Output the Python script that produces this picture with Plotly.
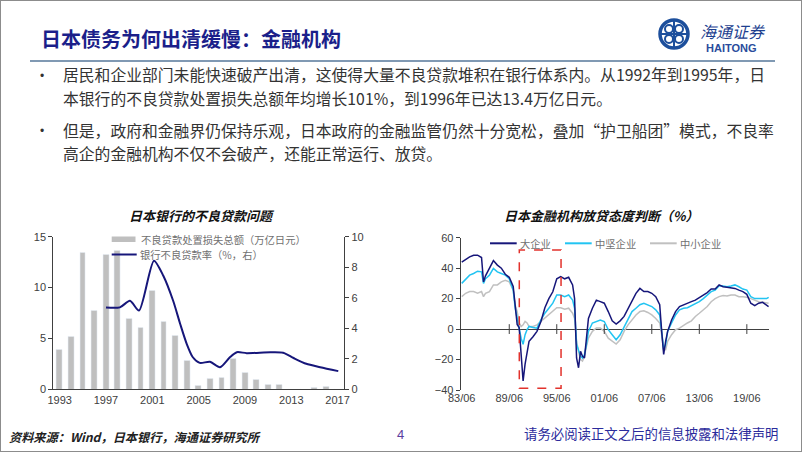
import plotly.graph_objects as go

W, H = 802, 452
def X(p): return p / W
def Y(p): return 1 - p / H

# ---------------- Left chart data ----------------
loss_years = list(range(1993, 2018))
loss_values = [3.85, 5.2, 13.4, 7.75, 13.25, 13.6, 6.9, 6.1, 9.7, 6.6, 5.3, 2.8, 0.35,
               1.0, 1.1, 3.05, 1.65, 0.95, 0.5, 0.5, 0, 0, 0.2, 0.25, 0]
ratio_x = [1997.0, 1998.2, 1999.07, 1999.85, 2001.14, 2001.95, 2002.8, 2003.4, 2003.97,
           2004.5, 2005.1, 2005.98, 2006.85, 2007.7, 2008.3, 2009.15, 2011.2, 2012.3,
           2013.2, 2014.3, 2015.5, 2017.06]
ratio_values = [5.36, 5.37, 5.8, 5.16, 8.43, 7.44, 5.8, 4.3, 2.98, 2.1, 1.73, 1.8, 1.45,
                2.1, 2.43, 2.37, 2.43, 2.4, 2.05, 1.67, 1.45, 1.19]
left_ticks = [1993, 1997, 2001, 2005, 2009, 2013, 2017]

# ---------------- Right chart data ----------------
t = [1983.5, 1984, 1984.5, 1985, 1985.5, 1986, 1986.25, 1986.5, 1987, 1987.5, 1988, 1988.5,
     1989, 1989.5, 1990, 1990.25, 1990.5, 1990.75, 1991, 1991.25, 1991.5, 1991.75, 1992,
     1992.5, 1993, 1993.5, 1994, 1994.5, 1995, 1995.5, 1996, 1996.5, 1997, 1997.5, 1997.75,
     1998, 1998.25, 1998.5, 1998.75, 1999, 1999.25, 1999.5, 2000, 2000.5, 2001, 2001.5,
     2002, 2002.5, 2003, 2003.5, 2004, 2004.5, 2005, 2005.5, 2006, 2006.5, 2007, 2007.5,
     2008, 2008.5, 2008.75, 2009, 2009.25, 2009.5, 2010, 2010.5, 2011, 2011.5, 2012, 2012.5,
     2013, 2013.5, 2014, 2014.5, 2015, 2015.5, 2016, 2016.5, 2017, 2017.5, 2018, 2018.5,
     2019, 2019.5, 2020, 2020.5, 2021, 2021.5, 2022, 2022.25]
large = [44, 46, 47.4, 48.5, 48.5, 47, 31, 35, 40, 45, 42, 40, 36, 34, 28, 14, 3, 1, -19, -34,
         -23, -15, -8, -5, -1.5, 5, 14, 20, 24.5, 33, 34.5, 33, 34, 29, 20, -19, -25.4, -14.6,
         -17.8, -19, -6, 7, 13.7, 19, 18, 17, 11.5, 5.4, 3.3, 5.4, 8.3, 13.7, 19, 23.5, 26.7,
         24.6, 24.6, 23.5, 21.3, 16, -1.5, -16.7, -8, -1.5, 6, 11.5, 14.8, 16, 17, 18, 19,
         20.6, 22.4, 24, 26.3, 26.3, 29, 27.8, 27.4, 27.2, 26.7, 25.6, 24.6, 22.8, 17, 15.4,
         17, 17.6, 15.4, 14.8]
medium = [30, 33, 35.4, 36.5, 38, 37.6, 30, 33, 35.4, 39.8, 37.6, 36.5, 35.4, 33, 25.6, 13.7,
          7, 0.7, -6, -10, -3.7, -0.4, 1.7, 1, 0.6, 6, 10.4, 13.7, 17, 22.4, 22.4, 21.3, 22.4,
          19, 13.7, -10, -14.6, -17.8, -19, -16.7, -10, -1.5, 4, 5, 6, 5, -0.4, -3.7, -7, -3.7,
          1.7, 7, 11.5, 13.7, 16, 17, 16, 14.8, 12.6, 9.3, -1.5, -13.5, -10, -1.5, 4, 9.3,
          12.6, 13.7, 14, 15.4, 17, 18, 20, 22.4, 24.6, 25.6, 28.5, 28.3, 27.8, 28.3, 29, 27.8,
          26.3, 25.6, 21.3, 20, 20, 19.6, 20, 20.9]
small = [21.3, 23.5, 24.6, 24.6, 23.5, 24.6, 21.3, 23.5, 24.6, 29, 29, 31, 32, 31, 25.6, 15.9,
         11.5, 4, 1.7, 2.8, 5, 4, 1.7, 1.7, 2.8, 5, 7, 9.3, 11.5, 14, 14, 13, 13.7, 10.4, 7,
         -8, -14.6, -20, -21, -17.8, -11.3, -6, -1.5, 0.7, 0.7, -1.5, -6, -8, -9.8, -7, -1.5,
         2.8, 6, 9.3, 11.5, 12, 10.9, 9.3, 7, 4, -3.7, -13.5, -13.5, -8, -3.7, -0.4, 0.6, 2.4,
         4, 5.4, 8.3, 10.4, 12.6, 14.8, 18, 20, 21.3, 22, 21.7, 22.4, 22.4, 21.3, 21.3, 20.9,
         20, 19, 18, 17.6, 17.4, 17]
right_tickvals = [1983.5, 1989.5, 1995.5, 2001.5, 2007.5, 2013.5, 2019.5]
right_ticktext = ['83/06', '89/06', '95/06', '01/06', '07/06', '13/06', '19/06']
highlight_x = [1990.77, 1996.04]
highlight_y = [-38.9, 51.9]

NAVY = '#16167a'
CYAN = '#22c4f2'
LGRAY = '#c0c0c0'
BAR = '#bfbfbf'
AX = '#404040'

fig = go.Figure()
fig.add_trace(go.Bar(x=loss_years, y=loss_values, marker_color=BAR, width=0.5,
                     xaxis='x', yaxis='y', name='不良贷款处置损失总额（万亿日元）'))
fig.add_trace(go.Scatter(x=ratio_x, y=ratio_values, mode='lines', line=dict(color=NAVY, width=2, shape='spline', smoothing=0.7),
                         xaxis='x', yaxis='y2', name='银行不良贷款率（%，右）'))

fig.add_trace(go.Scatter(x=t, y=small, mode='lines', line=dict(color=LGRAY, width=1.5),
                         xaxis='x3', yaxis='y3', name='中小企业'))
fig.add_trace(go.Scatter(x=t, y=medium, mode='lines', line=dict(color=CYAN, width=1.5),
                         xaxis='x3', yaxis='y3', name='中坚企业'))
fig.add_trace(go.Scatter(x=t, y=large, mode='lines', line=dict(color=NAVY, width=1.5),
                         xaxis='x3', yaxis='y3', name='大企业'))
fig.add_trace(go.Scatter(x=right_tickvals[1:], y=[0] * (len(right_tickvals) - 1), mode='markers',
                         marker=dict(symbol='line-ns', size=7, line=dict(width=1, color=AX)),
                         xaxis='x3', yaxis='y3', hoverinfo='skip'))

tickfont = dict(size=11, color=AX, family='Liberation Sans, Arial')
fig.update_layout(
    width=W, height=H, margin=dict(l=0, r=0, t=0, b=0, autoexpand=False),
    paper_bgcolor='white', plot_bgcolor='rgba(0,0,0,0)', showlegend=False,
    font=dict(family='Liberation Sans, Noto Sans CJK SC', size=11, color=AX),
    bargap=0,
    xaxis=dict(domain=[X(53.3), X(344.3)], range=[1992.45, 2017.58], anchor='y', automargin=False,
               showline=True, linecolor=AX, linewidth=1, tickvals=left_ticks, ticks='',
               showgrid=False, zeroline=False, tickfont=tickfont),
    yaxis=dict(domain=[Y(389.3), Y(236.7)], range=[0, 15], dtick=5, anchor='x', automargin=False,
               showline=True, linecolor=AX, linewidth=1, ticks='outside', ticklen=4, tickcolor=AX,
               showgrid=False, zeroline=False, tickfont=tickfont),
    yaxis2=dict(overlaying='y', side='right', anchor='x', range=[0, 10], dtick=2, automargin=False,
                showline=True, linecolor=AX, linewidth=1, ticks='outside', ticklen=4, tickcolor=AX,
                showgrid=False, zeroline=False, tickfont=tickfont),
    xaxis3=dict(domain=[X(460.7), X(769)], range=[1983.37, 2022.3], anchor='y3', automargin=False,
                showline=False, tickvals=right_tickvals, ticktext=right_ticktext, ticks='',
                showgrid=False, zeroline=False, tickfont=tickfont),
    yaxis3=dict(domain=[Y(390), Y(237.7)], range=[-40, 60], dtick=20, anchor='x3', automargin=False,
                showline=True, linecolor=AX, linewidth=1, ticks='outside', ticklen=4, tickcolor=AX,
                showgrid=False, zeroline=True, zerolinecolor=AX, zerolinewidth=1, tickfont=tickfont),
)

shapes = []
anns = []
def ann(text, x, y, xanchor, font):
    anns.append(dict(text=text, x=X(x), y=Y(y), xref='paper', yref='paper', xanchor=xanchor,
                     align=('left' if xanchor == 'left' else 'right' if xanchor == 'right' else 'center'),
                     yanchor='middle', showarrow=False, font=font, borderpad=0))

# frame
shapes.append(dict(type='rect', xref='paper', yref='paper', x0=0, x1=1, y0=0, y1=1,
                   line=dict(color='#8c8c8c', width=2)))
# separator
shapes.append(dict(type='line', xref='paper', yref='paper', x0=X(30), x1=X(775), y0=Y(61), y1=Y(61),
                   line=dict(color='#8099b3', width=2)))
# highlight box
shapes.append(dict(type='rect', xref='x3', yref='y3', x0=highlight_x[0], x1=highlight_x[1],
                   y0=highlight_y[0], y1=highlight_y[1], line=dict(color='#e2322c', width=1.5, dash='dash')))

# title
ann('<b>日本债务为何出清缓慢：金融机构</b>', 40, 38, 'left',
    dict(size=20, color='#1b1f8a', family='Noto Sans CJK SC'))

# logo
cx, cy, r = 674, 34, 14
LOGO = '#1d4f9c'
shapes.append(dict(type='circle', xref='paper', yref='paper', x0=X(cx - r), x1=X(cx + r), y0=Y(cy + r), y1=Y(cy - r),
                   line=dict(color=LOGO, width=3.5)))
for dx, dy in [(-5, -5), (5, -5), (-5, 5), (5, 5)]:
    rr = 4
    shapes.append(dict(type='circle', xref='paper', yref='paper', x0=X(cx + dx - rr), x1=X(cx + dx + rr),
                       y0=Y(cy + dy + rr), y1=Y(cy + dy - rr), line=dict(color=LOGO, width=2)))
shapes.append(dict(type='line', xref='paper', yref='paper', x0=X(cx), x1=X(cx), y0=Y(cy - r), y1=Y(cy + r),
                   line=dict(color=LOGO, width=2)))
shapes.append(dict(type='line', xref='paper', yref='paper', x0=X(cx - r), x1=X(cx + r), y0=Y(cy), y1=Y(cy),
                   line=dict(color=LOGO, width=2)))
ann('<i>海通证券</i>', 733, 31, 'center', dict(size=16, color='#1d3f8f', family='Noto Sans CJK SC'))
ann('<b>HAITONG</b>', 731, 48, 'center', dict(size=11, color='#2a4c9c', family='Liberation Sans'))

# bullets
bullet_font = dict(size=15.8, color='#333333', family='Noto Sans CJK SC')
lines = [
    (75, '居民和企业部门未能快速破产出清，这使得大量不良贷款堆积在银行体系内。从1992年到1995年，日', True),
    (98.3, '本银行的不良贷款处置损失总额年均增长101%，到1996年已达13.4万亿日元。', False),
    (130, '但是，政府和金融界仍保持乐观，日本政府的金融监管仍然十分宽松，叠加“护卫船团”模式，不良率', True),
    (153.3, '高企的金融机构不仅不会破产，还能正常运行、放贷。', False),
]
for yy, txt, bul in lines:
    ann(txt, 62, yy, 'left', bullet_font)
    if bul:
        ann('•', 42, yy + 1, 'center', dict(size=12, color='#333333', family='Liberation Sans'))

# chart titles
ann('<b><i>日本银行的不良贷款问题</i></b>', 201.7, 215, 'center', dict(size=13, color='#111111', family='Noto Sans CJK SC'))
ann('<b><i>日本金融机构放贷态度判断（%）</i></b>', 601.7, 215, 'center', dict(size=13, color='#111111', family='Noto Sans CJK SC'))

# left legend
leg_font = dict(size=10.3, color='#707070', family='Noto Sans CJK SC')
shapes.append(dict(type='rect', xref='paper', yref='paper', x0=X(111.7), x1=X(135.5), y0=Y(242), y1=Y(236.5),
                   fillcolor=BAR, line=dict(width=0)))
ann('不良贷款处置损失总额（万亿日元）', 140, 239.3, 'left', leg_font)
shapes.append(dict(type='line', xref='paper', yref='paper', x0=X(111.7), x1=X(136.7), y0=Y(254.5), y1=Y(254.5),
                   line=dict(color=NAVY, width=2)))
ann('银行不良贷款率（%，右）', 139, 254.5, 'left', leg_font)

# right legend
for x0, col, name in [(490, NAVY, '大企业'), (565, CYAN, '中坚企业'), (650, LGRAY, '中小企业')]:
    shapes.append(dict(type='line', xref='paper', yref='paper', x0=X(x0), x1=X(x0 + 26.7), y0=Y(243.3), y1=Y(243.3),
                       line=dict(color=col, width=2)))
    ann(name, x0 + 29.3, 243.3, 'left', leg_font)

# footer
ann('<b><i>资料来源：Wind，日本银行，海通证券研究所</i></b>', 8, 437, 'left',
    dict(size=12.2, color='#222222', family='Noto Sans CJK SC'))
ann('4', 400, 434, 'center', dict(size=13, color='#5a3d9e', family='Liberation Sans'))
ann('请务必阅读正文之后的信息披露和法律声明', 779, 433, 'right',
    dict(size=13.4, color='#2b2b9c', family='Noto Sans CJK SC'))

fig.update_layout(shapes=shapes, annotations=anns)
fig.write_html('out.html')
